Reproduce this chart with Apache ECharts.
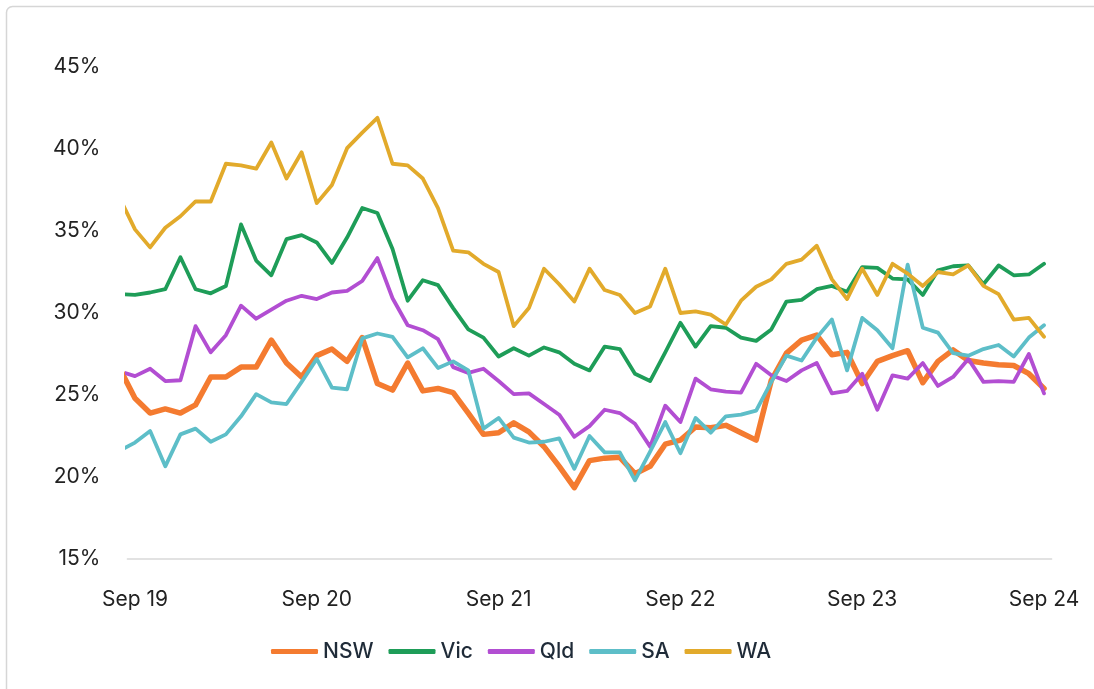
<!DOCTYPE html>
<html>
<head>
<meta charset="utf-8">
<script src="https://cdn.jsdelivr.net/npm/echarts@6/dist/echarts.min.js"></script>
<style>
  html, body { margin: 0; padding: 0; background: #ffffff; }
  #chart { width: 1094px; height: 689px; }
</style>
</head>
<body>
<div id="chart"></div>
<script>
// Monthly share by state, Aug 2019 – Sep 2024 (the Aug 2019 point only enters the left edge)
const monthNames = ['Jan','Feb','Mar','Apr','May','Jun','Jul','Aug','Sep','Oct','Nov','Dec'];
const months = [];
for (let i = 0; i < 62; i++) {
  const d = new Date(2019, 7 + i, 1);
  months.push(monthNames[d.getMonth()] + ' ' + String(d.getFullYear()).slice(2));
}

const tickLabels = ['Sep 19', 'Sep 20', 'Sep 21', 'Sep 22', 'Sep 23', 'Sep 24'];

const nsw = [26.6, 24.8, 23.9, 24.15, 23.9, 24.4, 26.1, 26.1, 26.7, 26.7, 28.35, 26.95, 26.1, 27.4, 27.8, 27.05,
  28.5, 25.7, 25.3, 26.95, 25.25, 25.4, 25.15, 23.9, 22.6, 22.7, 23.3, 22.75, 21.85, 20.65, 19.35,
  21.0, 21.15, 21.2, 20.2, 20.65, 22.0, 22.25, 23.05, 23.0, 23.15, 22.7, 22.25, 25.9, 27.55, 28.35,
  28.65, 27.45, 27.6, 25.7, 27.05, 27.4, 27.7, 25.75, 27.05, 27.75, 27.1, 26.95, 26.85, 26.8, 26.3, 25.4];

const vic = [31.15, 31.1, 31.25, 31.45, 33.4, 31.45, 31.2, 31.65, 35.4, 33.2, 32.3, 34.5, 34.75, 34.3, 33.05, 34.6,
  36.4, 36.1, 33.9, 30.75, 32.0, 31.7, 30.3, 29.0, 28.5, 27.35, 27.85, 27.4, 27.9, 27.6, 26.9,
  26.5, 27.95, 27.8, 26.3, 25.85, 27.6, 29.4, 27.95, 29.2, 29.1, 28.5, 28.3, 29.0, 30.7, 30.8,
  31.45, 31.65, 31.3, 32.8, 32.75, 32.1, 32.05, 31.1, 32.6, 32.85, 32.9, 31.75, 32.9, 32.3, 32.35, 33.0];

const qld = [26.45, 26.15, 26.6, 25.85, 25.9, 29.2, 27.6, 28.65, 30.45, 29.65, 30.2, 30.75, 31.05, 30.85, 31.25, 31.35,
  31.95, 33.35, 30.9, 29.25, 28.95, 28.4, 26.7, 26.35, 26.6, 25.85, 25.05, 25.1, 24.45, 23.8, 22.45,
  23.1, 24.1, 23.9, 23.25, 21.85, 24.35, 23.35, 26.0, 25.35, 25.2, 25.15, 26.9, 26.2, 25.85, 26.5,
  26.95, 25.1, 25.25, 26.3, 24.1, 26.2, 26.0, 26.95, 25.55, 26.1, 27.2, 25.8, 25.85, 25.8, 27.5, 25.1];

const sa = [21.6, 22.1, 22.8, 20.65, 22.6, 22.95, 22.15, 22.6, 23.7, 25.05, 24.55, 24.45, 25.8, 27.2, 25.45, 25.35,
  28.45, 28.75, 28.55, 27.3, 27.85, 26.65, 27.05, 26.5, 22.95, 23.6, 22.4, 22.1, 22.15, 22.35, 20.5,
  22.5, 21.5, 21.5, 19.8, 21.55, 23.35, 21.45, 23.6, 22.7, 23.7, 23.8, 24.05, 25.8, 27.4, 27.1,
  28.5, 29.6, 26.5, 29.7, 28.95, 27.85, 32.95, 29.1, 28.8, 27.55, 27.4, 27.8, 28.05, 27.35, 28.5, 29.25];

const wa = [37.0, 35.1, 34.0, 35.2, 35.9, 36.8, 36.8, 39.1, 39.0, 38.8, 40.4, 38.2, 39.8, 36.7, 37.8, 40.05,
  41.0, 41.9, 39.1, 39.0, 38.2, 36.4, 33.8, 33.7, 33.0, 32.5, 29.2, 30.3, 32.7, 31.75, 30.7,
  32.7, 31.4, 31.1, 30.0, 30.4, 32.7, 30.0, 30.1, 29.9, 29.3, 30.75, 31.6, 32.05, 33.0, 33.25,
  34.1, 32.05, 30.85, 32.7, 31.1, 33.0, 32.4, 31.65, 32.5, 32.35, 32.9, 31.65, 31.15, 29.6, 29.7, 28.55];

const seriesNames = ['NSW', 'Vic', 'Qld', 'SA', 'WA'];
const seriesValues = [nsw, vic, qld, sa, wa];
const seriesColors = ['#F47B30', '#1E9D58', '#B24ED2', '#5DBEC8', '#E2AA2B'];
const seriesWidths = [5.5, 3.8, 3.8, 3.8, 3.8];

// x position of a month: Sep 19 = 0, one unit per month
const xOf = i => i - 1;
const tickValues = tickLabels.map(t => xOf(months.indexOf(t)));

const FONT = 'Inter, "Open Sans", sans-serif';

const chart = echarts.init(document.getElementById('chart'), null, { renderer: 'canvas' });

chart.setOption({
  animation: false,
  backgroundColor: '#ffffff',
  graphic: [{
    type: 'rect',
    shape: { x: 6.5, y: 6.5, width: 1200, height: 800, r: 6 },
    style: { fill: 'none', stroke: '#d6d6d6', lineWidth: 1.5 },
    silent: true,
    z: -1
  }],
  grid: { left: 127.4, right: 42.4, top: 67, bottom: 130, containLabel: false },
  legend: {
    data: seriesNames,
    left: 271,
    top: 641,
    padding: 0,
    icon: 'roundRect',
    itemWidth: 47,
    itemHeight: 5,
    itemGap: 15,
    textStyle: { fontFamily: FONT, fontSize: 21, fontWeight: 500, color: '#1f2b38' }
  },
  xAxis: {
    type: 'value',
    min: -0.5,
    max: 60.5,
    axisLine: { show: true, lineStyle: { color: '#d9d9d9', width: 1.5 } },
    axisTick: { show: false },
    splitLine: { show: false },
    axisLabel: {
      customValues: tickValues,
      formatter: v => months[Math.round(v) + 1],
      fontFamily: FONT,
      fontSize: 21,
      color: '#222222',
      margin: 30
    }
  },
  yAxis: {
    type: 'value',
    min: 15,
    max: 45,
    interval: 5,
    axisLine: { show: false },
    axisTick: { show: false },
    splitLine: { show: false },
    axisLabel: {
      formatter: '{value}%',
      fontFamily: FONT,
      fontSize: 21,
      color: '#222222',
      margin: 27
    }
  },
  series: seriesNames.map((name, s) => ({
    name: name,
    type: 'line',
    clip: true,
    symbol: 'none',
    smooth: false,
    color: seriesColors[s],
    lineStyle: { color: seriesColors[s], width: seriesWidths[s], cap: 'round', join: 'round' },
    data: seriesValues[s].map((v, i) => [xOf(i), v])
  }))
});
</script>
</body>
</html>
